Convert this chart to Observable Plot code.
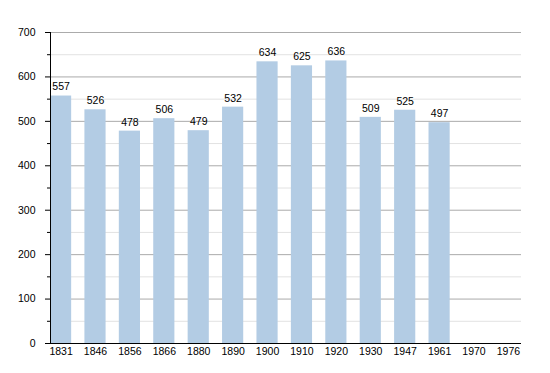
<!DOCTYPE html>
<html>
<head>
<meta charset="utf-8">
<script src="https://cdn.jsdelivr.net/npm/d3@7"></script>
<script src="https://cdn.jsdelivr.net/npm/@observablehq/plot@0.6"></script>
<style>
  html, body { margin: 0; padding: 0; background: #fff; }
  #chart svg { display: block; }
</style>
</head>
<body>
<div id="chart"></div>
<script>
const years = ["1831","1846","1856","1866","1880","1890","1900","1910","1920","1930","1947","1961","1970","1976"];
const population = [557,526,478,506,479,532,634,625,636,509,525,497,null,null];
const majorTicks = [0,100,200,300,400,500,600,700];
const minorTicks = [50,150,250,350,450,550,650];

const data = years.map((y, i) => ({year: y, value: population[i]})).filter(d => d.value != null);

const chart = Plot.plot({
  width: 550,
  height: 373,
  marginLeft: 50,
  marginRight: 29,
  marginTop: 32,
  marginBottom: 30,
  style: {fontFamily: "'Liberation Sans', Arial, sans-serif", fontSize: "10.5px", color: "#000", background: "#fff"},
  x: {domain: years, range: [50, 518.5], paddingInner: 0.385, paddingOuter: 0, align: 0, round: false, label: null},
  y: {domain: [0, 700], label: null},
  marks: [
    Plot.ruleY(minorTicks, {stroke: "#e2e2e2", strokeWidth: 1}),
    Plot.ruleY(majorTicks.slice(1), {stroke: "#ababab", strokeWidth: 1}),
    Plot.barY(data, {x: "year", y: "value", fill: "#b3cce4"}),
    Plot.text(data, {x: "year", y: "value", text: d => String(d.value), dy: -9, fill: "#000", fontSize: 10.5}),
    Plot.axisY(majorTicks, {tickSize: 5, tickPadding: 10, stroke: "#000", label: null}),
    Plot.axisY(minorTicks, {tickSize: 3, text: null, stroke: "#000", label: null}),
    Plot.axisX({tickSize: 0, tickPadding: 4, label: null}),
    Plot.frame({anchor: "left", stroke: "#000"}),
    Plot.ruleY([0], {stroke: "#000", strokeWidth: 1.2})
  ]
});
document.getElementById("chart").appendChild(chart);
</script>
</body>
</html>
